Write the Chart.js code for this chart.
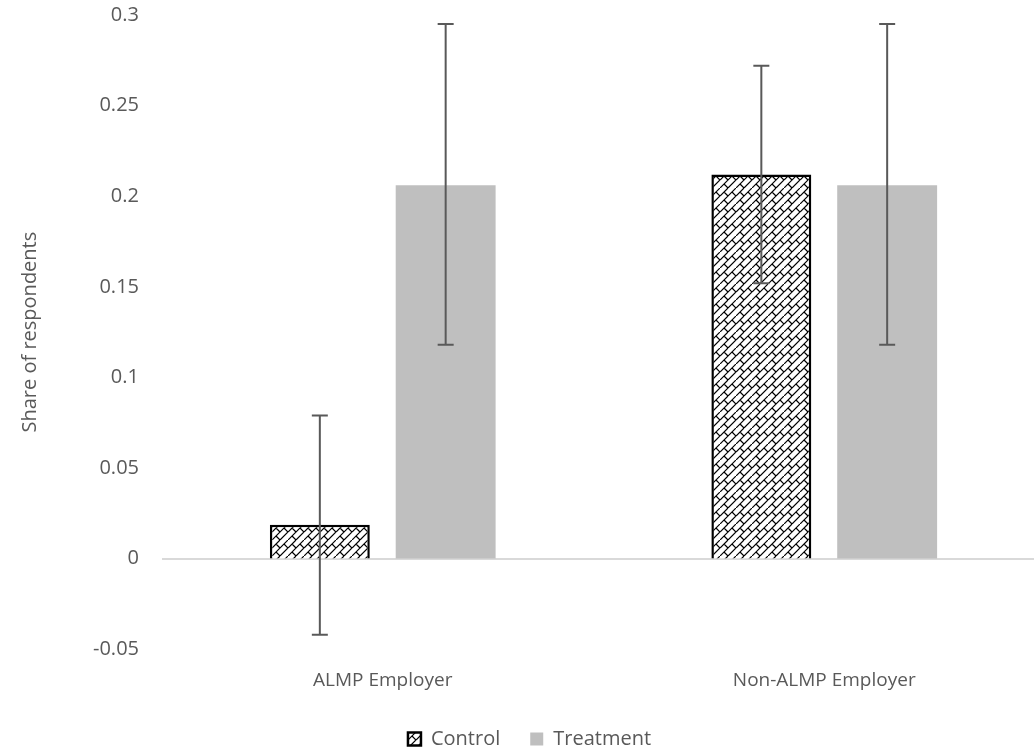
<!DOCTYPE html>
<html>
<head>
<meta charset="utf-8">
<script src="https://cdn.jsdelivr.net/npm/chart.js@4"></script>
<style>
  html, body { margin: 0; padding: 0; background: #fff; overflow: hidden; }
  #wrap { width: 1045px; height: 779px; margin-top: -20px; }
</style>
</head>
<body>
<div id="wrap"><canvas id="chart"></canvas></div>
<script>
// data
const categories = ['ALMP Employer', 'Non-ALMP Employer'];
const controlValues = [0.0187, 0.212];
const treatmentValues = [0.206, 0.206];
const controlLow = [-0.042, 0.152];
const controlHigh = [0.079, 0.272];
const treatmentLow = [0.118, 0.118];
const treatmentHigh = [0.295, 0.295];

const textColor = '#595959';
const fontFamily = '"Open Sans", "Liberation Sans", sans-serif';

// diagonal brick hatch for the control bars
function makeHatch() {
  const s = 16;
  const c = document.createElement('canvas');
  c.width = s; c.height = s;
  const g = c.getContext('2d');
  g.fillStyle = '#fff';
  g.fillRect(0, 0, s, s);
  g.strokeStyle = '#000';
  g.lineWidth = 1.2;
  g.beginPath();
  // long "/" lines
  g.moveTo(0, s); g.lineTo(s, 0);
  g.moveTo(0, 8); g.lineTo(8, 0);
  g.moveTo(8, s); g.lineTo(s, 8);
  // short "\" connectors, staggered
  g.moveTo(4, 4); g.lineTo(8, 8);
  g.moveTo(12, 4); g.lineTo(16, 8);
  g.moveTo(-4, 4); g.lineTo(0, 8);
  g.moveTo(4, 12); g.lineTo(8, 16);
  g.stroke();
  return g.createPattern(c, 'repeat');
}

const hatch = makeHatch();

// vertical error bars with caps
const errorBars = {
  id: 'errorBars',
  afterDatasetsDraw(chart) {
    const ctx = chart.ctx;
    const y = chart.scales.y;
    ctx.save();
    ctx.strokeStyle = textColor;
    ctx.lineWidth = 2;
    chart.data.datasets.forEach((ds, i) => {
      const meta = chart.getDatasetMeta(i);
      meta.data.forEach((bar, j) => {
        const top = y.getPixelForValue(ds.errHigh[j]);
        const bot = y.getPixelForValue(ds.errLow[j]);
        ctx.beginPath();
        ctx.moveTo(bar.x, top); ctx.lineTo(bar.x, bot);
        ctx.moveTo(bar.x - 8, top); ctx.lineTo(bar.x + 8, top);
        ctx.moveTo(bar.x - 8, bot); ctx.lineTo(bar.x + 8, bot);
        ctx.stroke();
      });
    });
    ctx.restore();
  }
};

new Chart(document.getElementById('chart'), {
  type: 'bar',
  data: {
    labels: categories,
    datasets: [
      {
        label: 'Control',
        data: controlValues,
        errLow: controlLow,
        errHigh: controlHigh,
        backgroundColor: hatch,
        borderColor: '#000',
        borderWidth: 2.5,
        categoryPercentage: 0.57,
        barPercentage: 0.794
      },
      {
        label: 'Treatment',
        data: treatmentValues,
        errLow: treatmentLow,
        errHigh: treatmentHigh,
        backgroundColor: '#bfbfbf',
        borderWidth: 0,
        categoryPercentage: 0.57,
        barPercentage: 0.794
      }
    ]
  },
  plugins: [errorBars],
  options: {
    responsive: true,
    maintainAspectRatio: false,
    animation: false,
    layout: { padding: { top: 4, right: 0, bottom: 0, left: 14 } },
    scales: {
      x: {
        grid: { display: false },
        border: { display: false },
        ticks: { color: textColor, font: { family: fontFamily, size: 19 }, padding: 12 },
        afterFit: (s) => { s.height -= 5; }
      },
      y: {
        min: -0.05,
        max: 0.3,
        border: { display: false },
        grid: {
          drawTicks: false,
          lineWidth: 2,
          color: (c) => (c.tick && Math.abs(c.tick.value) < 1e-9 ? '#d9d9d9' : 'rgba(0,0,0,0)')
        },
        ticks: {
          stepSize: 0.05,
          padding: 23,
          color: textColor,
          font: { family: fontFamily, size: 20 },
          callback: (v) => String(Number(v.toFixed(2)))
        },
        title: {
          display: true,
          text: 'Share of respondents',
          color: textColor,
          font: { family: fontFamily, size: 20 },
          padding: { bottom: 28 }
        }
      }
    },
    plugins: {
      tooltip: { enabled: false },
      legend: {
        position: 'bottom',
        labels: {
          color: textColor,
          font: { family: fontFamily, size: 20 },
          boxWidth: 13,
          boxHeight: 13,
          padding: 30
        }
      }
    }
  }
});
</script>
</body>
</html>
